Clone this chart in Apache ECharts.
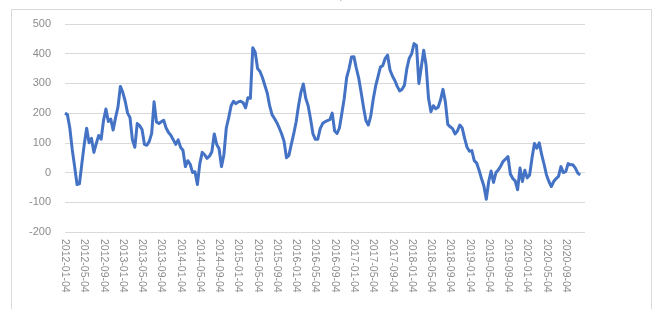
<!DOCTYPE html>
<html>
<head>
<meta charset="utf-8">
<script src="https://cdn.jsdelivr.net/npm/echarts@6/dist/echarts.min.js"></script>
<style>
html,body{margin:0;padding:0;background:#fff;}
#c{width:656px;height:309px;}
</style>
</head>
<body>
<div id="c"></div>
<script>
// Half-month categories from 2012-01-04 to 2021-01-04
var categories = [];
(function(){
  for (var y = 2012; y <= 2021; y++) {
    for (var m = 1; m <= 12; m++) {
      var mm = (m < 10 ? '0' : '') + m;
      categories.push(y + '-' + mm + '-04');
      if (y === 2021) return;
      categories.push(y + '-' + mm + '-19');
    }
  }
})();

var spreadValues = [
  200,195,150,78,20,-40,-38,30,95,149,
  100,115,68,98,125,112,175,214,172,180,
  143,185,220,290,270,240,200,185,110,85,
  165,158,145,95,92,105,132,238,170,165,
  171,176,150,135,125,110,95,110,85,75,
  20,40,28,0,3,-40,30,68,60,48,
  55,70,130,95,80,20,60,150,185,225,
  240,232,238,240,235,218,252,250,420,405,
  350,340,320,294,268,225,195,182,168,150,
  130,105,50,58,95,130,170,225,270,298,
  250,225,180,130,112,112,148,165,171,175,
  178,200,140,132,150,200,250,320,350,389,
  390,352,318,270,220,175,160,190,245,290,
  322,355,360,384,395,345,325,310,290,275,
  280,294,350,385,400,434,428,300,355,412,
  360,250,205,225,215,220,245,280,238,162,
  154,148,130,140,160,150,115,85,72,74,
  40,32,8,-20,-45,-90,-30,5,-33,0,
  9,22,38,45,54,-5,-20,-28,-58,15,
  -30,8,-18,-8,50,98,82,100,60,28,
  -8,-30,-47,-30,-20,-13,20,0,3,30,
  26,26,15,-2,-8
];

var yTicks = { min: -200, max: 500, interval: 100 };
var labelEvery = 8;
var lastLabelIndex = 208;

var chart = echarts.init(document.getElementById('c'), null, {renderer: 'canvas'});
chart.setOption({
  animation: false,
  backgroundColor: '#ffffff',
  graphic: [
    {
      type: 'rect',
      shape: {x: 11.5, y: 9.5, width: 640, height: 310},
      style: {fill: 'none', stroke: '#d9d9d9', lineWidth: 1},
      z: 0
    },
    {
      type: 'text',
      left: 250, top: -15,
      style: {text: '基差走势（元/吨）', fill: '#595959', font: '15px "Noto Sans CJK SC"'}
    }
  ],
  grid: {left: 65, right: 71, top: 24, bottom: 77, containLabel: false},
  xAxis: {
    type: 'category',
    data: categories,
    boundaryGap: false,
    axisLine: {show: false},
    axisTick: {show: false},
    axisLabel: {
      interval: function (idx) { return idx % labelEvery === 0 && idx <= lastLabelIndex; },
      rotate: -90,
      margin: 7,
      color: '#8c8c8c',
      fontSize: 10.5,
      fontFamily: 'Liberation Sans'
    },
    splitLine: {show: false}
  },
  yAxis: {
    type: 'value',
    min: yTicks.min,
    max: yTicks.max,
    interval: yTicks.interval,
    axisLine: {show: false},
    axisTick: {show: false},
    axisLabel: {color: '#8c8c8c', fontSize: 11, margin: 14, fontFamily: 'Liberation Sans'},
    splitLine: {lineStyle: {color: '#d9d9d9', width: 1}}
  },
  series: [{
    type: 'line',
    data: spreadValues,
    showSymbol: false,
    symbol: 'none',
    lineStyle: {color: '#4472c4', width: 3, join: 'round'},
    itemStyle: {color: '#4472c4'}
  }]
});
</script>
</body>
</html>
